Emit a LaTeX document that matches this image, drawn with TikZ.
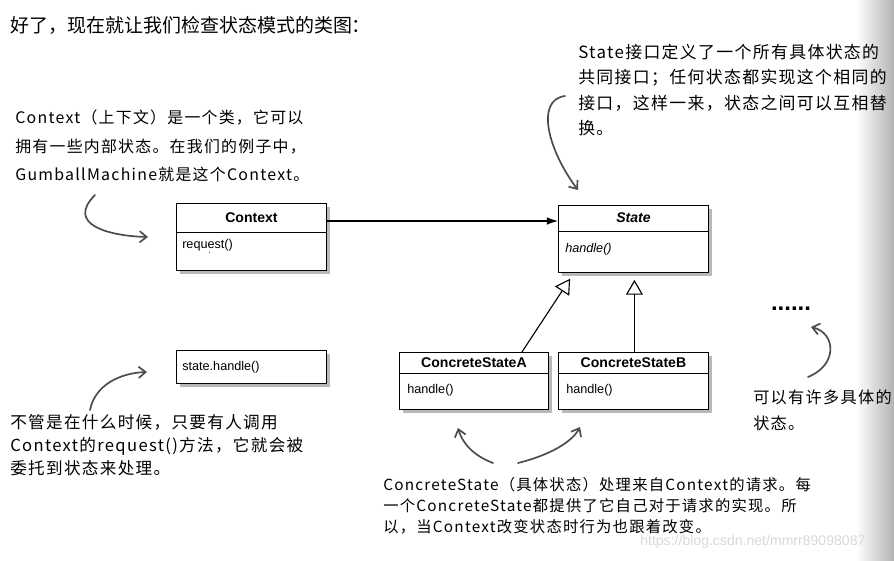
\documentclass[tikz,border=0pt]{standalone}
\usepackage{fontspec}
\setmainfont{Liberation Sans}
\newfontfamily\cjk{Noto Sans CJK SC}
\newfontfamily\cjkhand{Noto Sans CJK SC}[LetterSpace=8]
\usetikzlibrary{arrows.meta,shadows,calc}
\begin{document}
\begin{tikzpicture}[x=0.025cm,y=-0.025cm,
  box/.style={draw,fill=white,line width=0.6pt,inner sep=0pt,
    drop shadow={shadow xshift=2.5pt,shadow yshift=-2.5pt,fill=black!50,opacity=0.55}},
  classname/.style={inner sep=0pt,font=\bfseries\fontsize{10}{12}\selectfont},
  method/.style={inner sep=0pt,anchor=west,font=\fontsize{9}{11}\selectfont},
  note/.style={inner sep=0pt,anchor=north west,align=left,font=\cjkhand\fontsize{11.5}{20}\selectfont},
  hand/.style={-{Straight Barb[length=5pt,width=8pt]},line width=1.2pt,draw=black!70,line cap=round},
  impl/.style={-{Triangle[open,length=10.5pt,width=12pt]},line width=0.8pt},
  assoc/.style={-{Latex[length=8pt,width=5.5pt]},line width=0.8pt}]
\useasboundingbox (0,0) rectangle (894,560);
\fill[white] (0,0) rectangle (894,560);
\fill[left color=white,right color=black!30] (856,0) rectangle (894,560);
% title
\node[inner sep=0pt,anchor=west,font=\cjk\fontsize{13.5}{16}\selectfont] (head) at (10,25) {好了，现在就让我们检查状态模式的类图：};
% classes
\node[box,minimum width=3.75cm,minimum height=1.675cm,anchor=north west] (ctx) at (176,203) {};
\draw ($(ctx.north west)+(0,29)$) -- ($(ctx.north east)+(0,29)$);
\node[classname] (ctxt) at ($(ctx.north)+(0,15)$) {Context};
\node[method] (ctxm) at ($(ctx.north west)+(6,42)$) {request()};
\node[box,minimum width=3.75cm,minimum height=0.825cm,anchor=north west] (sth) at (176,350) {};
\node[method] (sthm) at ($(sth.west)+(6,0)$) {state.handle()};
\node[box,minimum width=3.75cm,minimum height=1.675cm,anchor=north west] (state) at (558,205) {};
\draw ($(state.north west)+(0,26)$) -- ($(state.north east)+(0,26)$);
\node[classname,font=\bfseries\itshape\fontsize{10}{12}\selectfont] (statet) at ($(state.north)+(0,13)$) {State};
\node[method,font=\itshape\fontsize{9}{11}\selectfont] (statem) at ($(state.north west)+(7,44)$) {handle()};
\node[box,minimum width=3.725cm,minimum height=1.425cm,anchor=north west] (csa) at (399,352) {};
\draw ($(csa.north west)+(0,21)$) -- ($(csa.north east)+(0,21)$);
\node[classname] (csat) at ($(csa.north)+(0,11)$) {ConcreteStateA};
\node[method] (csam) at ($(csa.north west)+(8,38)$) {handle()};
\node[box,minimum width=3.75cm,minimum height=1.425cm,anchor=north west] (csb) at (558,352) {};
\draw ($(csb.north west)+(0,21)$) -- ($(csb.north east)+(0,21)$);
\node[classname] (csbt) at ($(csb.north)+(0,11)$) {ConcreteStateB};
\node[method] (csbm) at ($(csb.north west)+(8,38)$) {handle()};
% relations
\draw[assoc] ($(ctx.north east)+(0,18)$) -- ($(state.north west)+(0,16)$);
\draw[dotted,line width=0.7pt,black!70] ($(ctxm.south)+(2,2)$) -- ($(ctxm.south)+(2,0)$ |- sth.north);
\draw[impl,shorten >=5pt] ($(csa.north)+(48,0)$) -- ($(state.south west)+(16,0)$);
\draw[impl,shorten >=5pt] ($(csb.north)+(1,0)$) -- ($(state.south)+(1,0)$);
% notes
\node[note,font=\cjkhand\fontsize{11.3}{20}\selectfont] (ctxnote) at (15,110) {Context（上下文）是一个类，它可以\\拥有一些内部状态。在我们的例子中，\\GumballMachine就是这个Context。};
\node[note,font=\cjkhand\fontsize{12}{18}\selectfont] (statenote) at (578,44) {State接口定义了一个所有具体状态的\\共同接口；任何状态都实现这个相同的\\接口，这样一来，状态之间可以互相替\\换。};
\node[note,font=\cjkhand\fontsize{11.8}{16.5}\selectfont] (sthnote) at (10,414) {不管是在什么时候，只要有人调用\\Context的request()方法，它就会被\\委托到状态来处理。};
\node[note,font=\cjkhand\fontsize{10.9}{14.8}\selectfont] (csnote) at (383,477) {ConcreteState（具体状态）处理来自Context的请求。每\\一个ConcreteState都提供了它自己对于请求的实现。所\\以，当Context改变状态时行为也跟着改变。};
\node[note,font=\cjkhand\fontsize{11.5}{18.5}\selectfont] (morenote) at (753,390) {可以有许多具体的\\状态。};
\node[inner sep=0pt,font=\bfseries\fontsize{17}{17}\selectfont] (more) at (791,309) {......};
% hand-drawn pointers
\coordinate (p1) at (95,195);   \coordinate (q1) at (148,237);
\coordinate (p2) at (565,96);   \coordinate (q2) at (578,190);
\coordinate (p3) at (90,410);   \coordinate (q3) at (147,372);
\coordinate (p4) at (493,463);  \coordinate (q4) at (458,428);
\coordinate (p5) at (518,463);  \coordinate (q5) at (580,427);
\coordinate (p6) at (808,377);  \coordinate (q6) at (811,327);
\draw[hand] (p1) .. controls (65,225) and (110,236) .. (q1);
\draw[hand] (p2) .. controls (535,100) and (548,150) .. (q2);
\draw[hand] (p3) .. controls (95,385) and (120,373) .. (q3);
\draw[hand] (p4) .. controls (472,455) and (462,442) .. (q4);
\draw[hand] (p5) .. controls (550,455) and (572,442) .. (q5);
\draw[hand] (p6) .. controls (838,365) and (836,333) .. (q6);
% watermark
\node[inner sep=0pt,anchor=west,text=white!85!black,font=\fontsize{10}{12}\selectfont] (mark) at (640,542) {https://blog.csdn.net/mmrr89098087};
\end{tikzpicture}
\end{document}
